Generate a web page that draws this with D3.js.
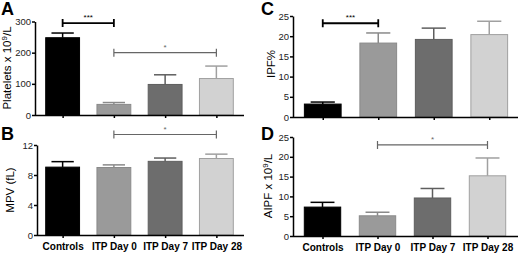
<!DOCTYPE html>
<html>
<head>
<script src="https://d3js.org/d3.v7.min.js"></script>
<style>
    body { margin: 0; background: #fff; }
    svg text { font-family: "Liberation Sans", Arial, sans-serif; }
    .axis path, .axis line { stroke: #000; stroke-width: 1.5; }
    .axis text { font-size: 9.5px; fill: #222; }
</style>
</head>
<body>
<div id="chart"></div>
<script>
// groups
const groups = ['Controls', 'ITP Day 0', 'ITP Day 7', 'ITP Day 28'];
const fills = ['#000000', '#9a9a9a', '#6d6d6d', '#d2d2d2'];
const strokes = ['#000000', '#8a8a8a', '#5e5e5e', '#a0a0a0'];

// panel A - platelets
const plateletMean = [248, 34, 98, 117];
const plateletSem = [15, 6, 31, 40];
// panel B - MPV
const mpvMean = [9.05, 9.0, 9.82, 10.2];
const mpvSem = [0.73, 0.35, 0.44, 0.58];
// panel C - IPF%
const ipfMean = [3.2, 18.3, 19.2, 20.4];
const ipfSem = [0.5, 2.5, 2.8, 3.3];
// panel D - AIPF
const aipfMean = [7.3, 5.1, 9.6, 15.2];
const aipfSem = [1.2, 0.9, 2.4, 4.5];

// significance brackets: [from, to, value, label]
const sigA = [[0, 1, 295, '***', 'black'], [1, 3, 200, '*', 'gray']];
const sigB = [[1, 3, 13.4, '*', 'gray']];
const sigC = [[0, 1, 23.2, '***', 'black']];
const sigD = [[1, 3, 23, '*', 'gray']];

const svg = d3.select('#chart').append('svg')
    .attr('width', 520)
    .attr('height', 255);

function panel(cfg) {
    const g = svg.append('g');

    const x = d3.scalePoint().domain(groups).range(cfg.xr).padding(0.5);
    const y = d3.scaleLinear().domain([0, cfg.max]).range([cfg.y0, cfg.y1]);
    const bw = x.step() * 0.68;

    // bars
    cfg.mean.forEach((v, i) => {
        const cx = x(groups[i]);
        // error bar (upper only)
        const top = y(v + cfg.sem[i]);
        g.append('line')
            .attr('x1', cx).attr('x2', cx)
            .attr('y1', y(v)).attr('y2', top)
            .attr('stroke', strokes[i]).attr('stroke-width', 1.5);
        g.append('line')
            .attr('x1', cx - bw * 0.32).attr('x2', cx + bw * 0.32)
            .attr('y1', top).attr('y2', top)
            .attr('stroke', strokes[i]).attr('stroke-width', 1.5);
        g.append('rect')
            .attr('x', cx - bw / 2 + 0.5)
            .attr('y', y(v))
            .attr('width', bw - 1)
            .attr('height', y(0) - y(v))
            .attr('fill', fills[i])
            .attr('stroke', strokes[i])
            .attr('stroke-width', 1);
    });

    // y axis
    g.append('g')
        .attr('class', 'axis')
        .attr('transform', `translate(${cfg.xa},0)`)
        .call(d3.axisLeft(y).tickValues(cfg.ticks).tickSize(3).tickPadding(1).tickSizeOuter(0));

    // x axis
    const xa = g.append('g')
        .attr('class', 'axis')
        .attr('transform', `translate(0,${cfg.y0})`)
        .call(d3.axisBottom(x).tickSize(3).tickSizeOuter(0).tickFormat(cfg.labels ? null : ''));
    xa.select('.domain').attr('d', `M${cfg.xa},0.5H${cfg.xe}`);
    xa.selectAll('text')
        .style('font-size', '10px')
        .style('font-weight', 'bold')
        .style('fill', '#000')
        .attr('dy', '0.85em');

    // significance brackets
    cfg.sig.forEach(s => {
        const x1 = x(groups[s[0]]), x2 = x(groups[s[1]]), yy = y(s[2]);
        const col = s[4] === 'black' ? '#000' : '#666';
        const sw = s[4] === 'black' ? 1.8 : 1.2;
        g.append('path')
            .attr('d', `M${x1},${yy - 4}V${yy + 4}M${x1},${yy}H${x2}M${x2},${yy - 4}V${yy + 4}`)
            .attr('stroke', col).attr('stroke-width', sw).attr('fill', 'none');
        g.append('text')
            .attr('x', (x1 + x2) / 2).attr('y', yy - 3)
            .attr('text-anchor', 'middle')
            .style('font-size', '8px')
            .style('fill', col)
            .text(s[3]);
    });

    // panel letter
    svg.append('text')
        .attr('x', cfg.letterX).attr('y', cfg.letterY)
        .style('font-size', '18px').style('font-weight', 'bold')
        .text(cfg.letter);

    // y label
    const yl = svg.append('text')
        .attr('transform', `translate(${cfg.labX},${cfg.labY}) rotate(-90)`)
        .attr('text-anchor', 'middle')
        .style('font-size', '11.5px');
    yl.append('tspan').text(cfg.ylab[0]);
    if (cfg.ylab.length > 1) {
        yl.append('tspan').attr('dy', -4).style('font-size', '8px').text(cfg.ylab[1]);
        yl.append('tspan').attr('dy', 4).text(cfg.ylab[2]);
    }
}

panel({ letter: 'A', letterX: 1, letterY: 15, mean: plateletMean, sem: plateletSem, sig: sigA,
    max: 300, ticks: [0, 100, 200, 300], y0: 115, y1: 21.5, xr: [37, 242], xa: 35, xe: 244,
    labX: 11, labY: 68, ylab: ['Platelets x 10', '9', '/L'], labels: false });
panel({ letter: 'B', letterX: 1, letterY: 140, mean: mpvMean, sem: mpvSem, sig: sigB,
    max: 12, ticks: [0, 4, 8, 12], y0: 235, y1: 145, xr: [37, 242], xa: 37, xe: 244,
    labX: 14, labY: 190, ylab: ['MPV (fL)'], labels: true });
panel({ letter: 'C', letterX: 261, letterY: 15, mean: ipfMean, sem: ipfSem, sig: sigC,
    max: 25, ticks: [0, 5, 10, 15, 20, 25], y0: 117, y1: 16, xr: [295, 517], xa: 293, xe: 518,
    labX: 275, labY: 64, ylab: ['IPF%'], labels: false });
panel({ letter: 'D', letterX: 261, letterY: 140, mean: aipfMean, sem: aipfSem, sig: sigD,
    max: 25, ticks: [0, 5, 10, 15, 20, 25], y0: 236, y1: 137, xr: [295, 515], xa: 293, xe: 518,
    labX: 272, labY: 186, ylab: ['AIPF x 10', '9', '/L'], labels: true });
</script>
</body>
</html>
